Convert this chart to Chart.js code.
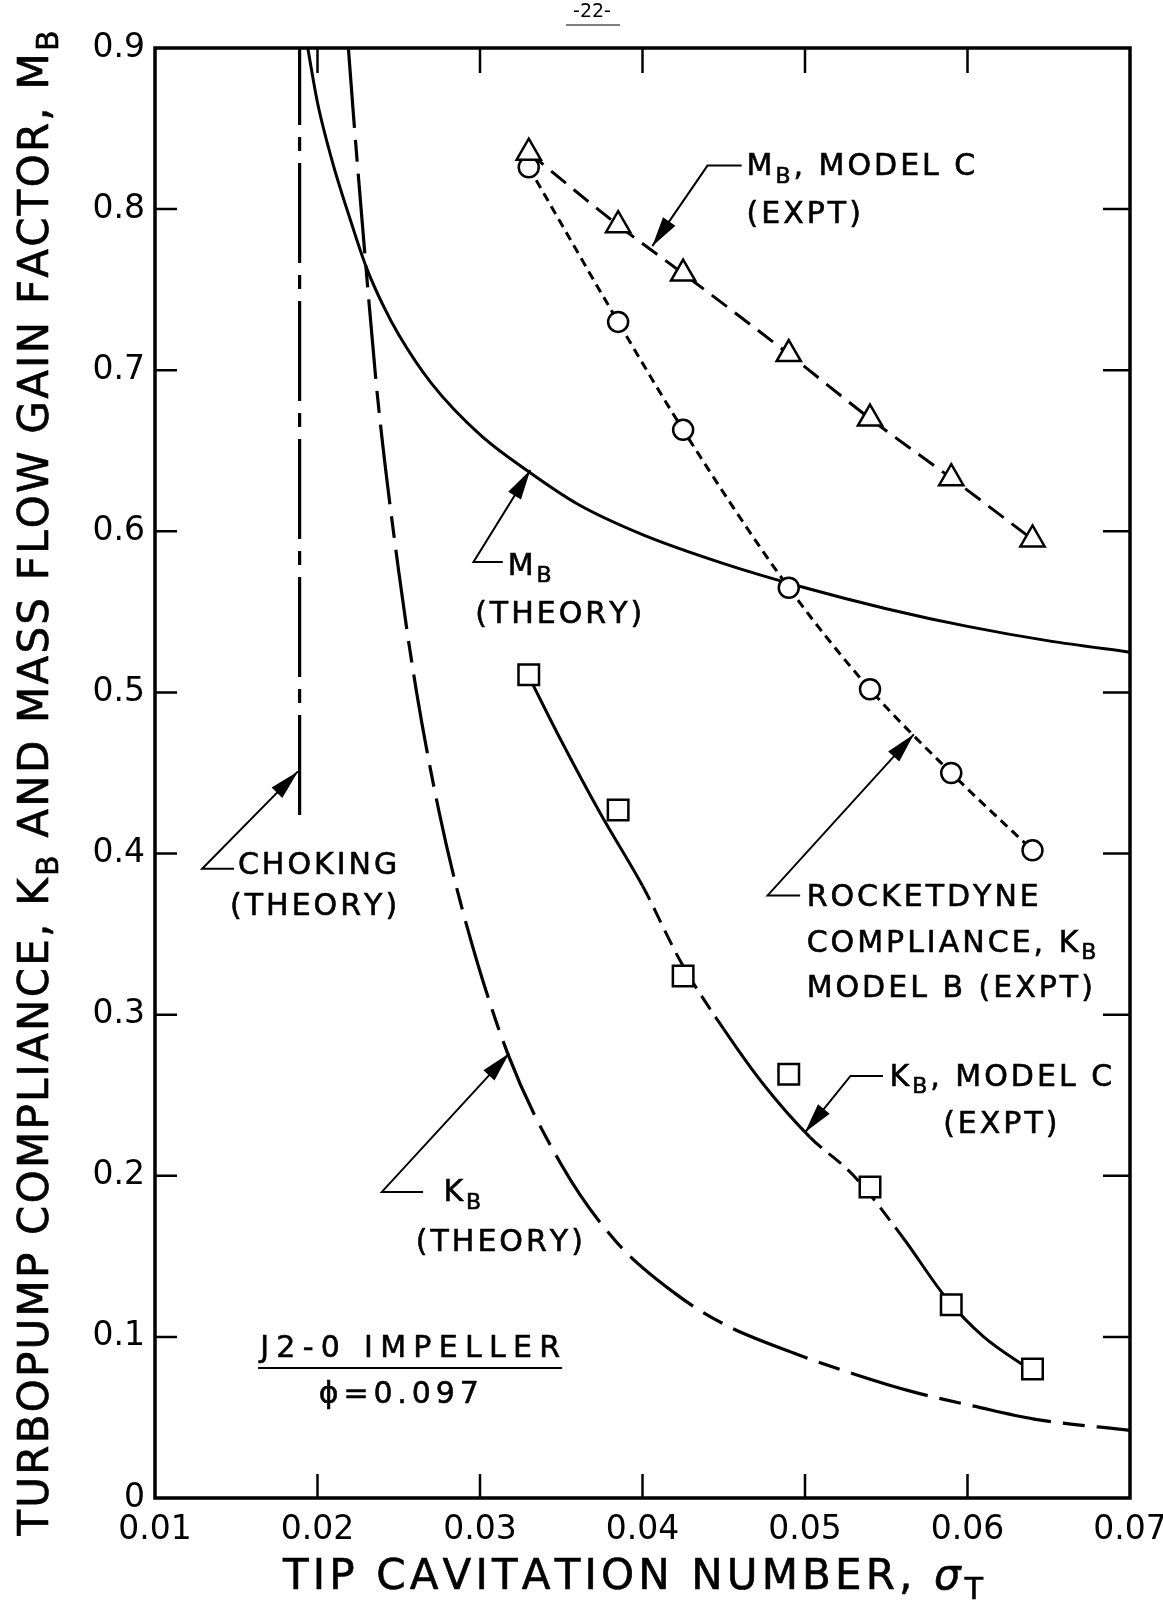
<!DOCTYPE html>
<html>
<head>
<meta charset="utf-8">
<script src="https://cdn.jsdelivr.net/npm/chart.js@4.4.1/dist/chart.umd.min.js"></script>
<style>
  html, body { margin: 0; padding: 0; background: #fff; }
  canvas { display: block; }
</style>
</head>
<body>
<canvas id="compliance" width="1163" height="1606"></canvas>
<script>
// experimental points, tip cavitation number vs value
var sigmaExpt = [0.033, 0.0385, 0.0425, 0.049, 0.054, 0.059, 0.064];
var mbModelC = [0.835, 0.79, 0.76, 0.71, 0.67, 0.633, 0.595];
var kbModelB = [0.826, 0.73, 0.663, 0.565, 0.502, 0.45, 0.402];
var kbModelC = [0.511, 0.427, 0.324, 0.263, 0.193, 0.12, 0.08];

// faired curves
var mbTheorySigma = [0.0194, 0.0200, 0.0209, 0.0220, 0.0230, 0.0240, 0.0250, 0.0270, 0.0300, 0.0330, 0.0360, 0.0400, 0.0450, 0.0500, 0.0550, 0.0600, 0.0650, 0.0700];
var mbTheory = [0.900, 0.866, 0.830, 0.794, 0.764, 0.741, 0.722, 0.692, 0.660, 0.637, 0.617, 0.598, 0.580, 0.565, 0.552, 0.541, 0.532, 0.525];

var kbTheorySigma = [0.0219, 0.0222, 0.0230, 0.0237, 0.0250, 0.0261, 0.0275, 0.0290, 0.0317, 0.0350, 0.0383, 0.0420, 0.0450, 0.0493, 0.0530, 0.0566, 0.0604, 0.0641, 0.0700];
var kbTheory = [0.900, 0.860, 0.762, 0.683, 0.575, 0.500, 0.425, 0.362, 0.276, 0.207, 0.160, 0.127, 0.108, 0.090, 0.077, 0.066, 0.057, 0.049, 0.042];

var kbFitSigma = [0.0330, 0.0350, 0.0374, 0.0400, 0.0424, 0.0450, 0.0475, 0.0503, 0.0530, 0.0560, 0.0587, 0.0610, 0.0638];
var kbFit = [0.510, 0.470, 0.425, 0.380, 0.332, 0.291, 0.256, 0.224, 0.200, 0.162, 0.124, 0.100, 0.080];

var chokingSigma = [0.0189, 0.0189];
var chokingLevel = [0.424, 0.9];

var xTicks = [0.01, 0.02, 0.03, 0.04, 0.05, 0.06, 0.07];
var yTicks = [0, 0.1, 0.2, 0.3, 0.4, 0.5, 0.6, 0.7, 0.8, 0.9];

var FONT = "'DejaVu Sans'";

function pts(xs, ys) {
  return xs.map(function (x, i) { return { x: x, y: ys[i] }; });
}

// labels and leader arrows, placed in axis units
var notes = [
  { x: 0.0464, y: 0.826, parts: ["M", "_B", ", MODEL C"] },
  { x: 0.0464, y: 0.796, parts: ["(EXPT)"] },
  { x: 0.0317, y: 0.578, parts: ["M", "_B"] },
  { x: 0.0297, y: 0.548, parts: ["(THEORY)"] },
  { x: 0.0151, y: 0.392, parts: ["CHOKING"] },
  { x: 0.01462, y: 0.367, parts: ["(THEORY)"] },
  { x: 0.0501, y: 0.372, parts: ["ROCKETDYNE"] },
  { x: 0.0501, y: 0.344, parts: ["COMPLIANCE, K", "_B"] },
  { x: 0.0501, y: 0.3155, parts: ["MODEL B (EXPT)"] },
  { x: 0.0552, y: 0.2608, parts: ["K", "_B", ", MODEL C"] },
  { x: 0.0585, y: 0.2316, parts: ["(EXPT)"] },
  { x: 0.02775, y: 0.189, parts: ["K", "_B"] },
  { x: 0.02605, y: 0.1584, parts: ["(THEORY)"] },
  { x: 0.0257, y: 0.0925, parts: ["J2-0 IMPELLER"], center: true, width: 300, underline: true },
  { x: 0.0250, y: 0.064, parts: ["\u03d5", "=", "0.097"], center: true, width: 160 }
];

var leaders = [
  { vx: 0.0440, vy: 0.827, hx: 0.0461, tx: 0.0406, ty: 0.777 },
  { vx: 0.0296, vy: 0.581, hx: 0.0314, tx: 0.0331, ty: 0.638 },
  { vx: 0.0129, vy: 0.3906, hx: 0.01486, tx: 0.0188, ty: 0.451 },
  { vx: 0.0477, vy: 0.374, hx: 0.0497, tx: 0.0567, ty: 0.474 },
  { vx: 0.0528, vy: 0.262, hx: 0.0548, tx: 0.0500, ty: 0.227 },
  { vx: 0.02396, vy: 0.190, hx: 0.0265, tx: 0.0318, ty: 0.276 }
];

function layoutRun(ctx, parts, size) {
  var w = 0, pieces = [];
  parts.forEach(function (p) {
    var kind = p.charAt(0), t = p, f = size + "px " + FONT, dy = 0;
    if (kind === "_") { t = p.slice(1); f = Math.round(size * 0.72) + "px " + FONT; dy = size * 0.32; }
    else if (kind === "*") { t = p.slice(1); f = "italic " + size + "px " + FONT; }
    ctx.font = f;
    for (var i = 0; i < t.length; i++) {
      var cw = ctx.measureText(t[i]).width;
      pieces.push({ c: t[i], f: f, dy: dy, x: w, w: cw });
      w += cw;
    }
  });
  return { pieces: pieces, width: w };
}

function drawRun(ctx, parts, x, y, size, sp, align, target) {
  var run = layoutRun(ctx, parts, size);
  var n = run.pieces.length;
  if (target) sp = (target - run.width) / (n - 1);
  var total = run.width + sp * (n - 1);
  var x0 = align === "center" ? x - total / 2 : x;
  ctx.textAlign = "left";
  ctx.textBaseline = "middle";
  ctx.lineWidth = 0.6;
  run.pieces.forEach(function (pc, i) {
    ctx.font = pc.f;
    ctx.fillText(pc.c, x0 + pc.x + sp * i, y + pc.dy);
    ctx.strokeText(pc.c, x0 + pc.x + sp * i, y + pc.dy);
  });
  return { left: x0, width: total };
}

var overlay = {
  id: "overlay",
  afterDraw: function (chart) {
    var ctx = chart.ctx, a = chart.chartArea;
    var xs = chart.scales.x, ys = chart.scales.y;
    ctx.save();
    ctx.strokeStyle = "#000";
    ctx.fillStyle = "#000";

    // frame
    ctx.lineWidth = 3.5;
    ctx.strokeRect(a.left, a.top, a.right - a.left, a.bottom - a.top);

    // inward ticks
    ctx.lineWidth = 2.5;
    ctx.beginPath();
    xTicks.slice(1, -1).forEach(function (v) {
      var px = xs.getPixelForValue(v);
      ctx.moveTo(px, a.bottom); ctx.lineTo(px, a.bottom - 24);
      ctx.moveTo(px, a.top); ctx.lineTo(px, a.top + 25);
    });
    yTicks.slice(1, -1).forEach(function (v) {
      var py = ys.getPixelForValue(v);
      ctx.moveTo(a.left, py); ctx.lineTo(a.left + 22, py);
      ctx.moveTo(a.right, py); ctx.lineTo(a.right - 27, py);
    });
    ctx.stroke();

    // leaders with arrowheads
    ctx.lineWidth = 2;
    leaders.forEach(function (l) {
      var vx = xs.getPixelForValue(l.vx), vy = ys.getPixelForValue(l.vy);
      var hx = xs.getPixelForValue(l.hx);
      var tx = xs.getPixelForValue(l.tx), ty = ys.getPixelForValue(l.ty);
      ctx.beginPath();
      ctx.moveTo(hx, vy); ctx.lineTo(vx, vy); ctx.lineTo(tx, ty);
      ctx.stroke();
      var ang = Math.atan2(ty - vy, tx - vx);
      var len = 30, half = 7.5;
      var bx = tx - Math.cos(ang) * len, by = ty - Math.sin(ang) * len;
      ctx.beginPath();
      ctx.moveTo(tx, ty);
      ctx.lineTo(bx - Math.sin(ang) * half, by + Math.cos(ang) * half);
      ctx.lineTo(bx + Math.sin(ang) * half, by - Math.cos(ang) * half);
      ctx.closePath();
      ctx.fill();
    });

    // labels
    notes.forEach(function (n) {
      var px = xs.getPixelForValue(n.x), py = ys.getPixelForValue(n.y);
      var r = drawRun(ctx, n.parts, px, py, 30, 3, n.center ? "center" : "left", n.width);
      if (n.underline) {
        ctx.lineWidth = 2;
        ctx.beginPath();
        ctx.moveTo(r.left - 2, py + 19); ctx.lineTo(r.left + r.width + 2, py + 19);
        ctx.stroke();
      }
    });

    // axis titles
    drawRun(ctx, ["TIP CAVITATION NUMBER, ", "*\u03c3", "_T"], 633, 1578, 42, 0, "center", 700);
    ctx.save();
    ctx.translate(37, 783);
    ctx.rotate(-Math.PI / 2);
    drawRun(ctx, ["TURBOPUMP COMPLIANCE, K", "_B", " AND MASS FLOW GAIN FACTOR, M", "_B"], 0, 0, 42, 0, "center", 1505);
    ctx.restore();

    // page number
    ctx.font = "19px " + FONT;
    ctx.textAlign = "center";
    ctx.textBaseline = "middle";
    ctx.fillText("-22-", 592, 12);
    ctx.lineWidth = 1;
    ctx.beginPath();
    ctx.moveTo(566, 25); ctx.lineTo(620, 25);
    ctx.stroke();
    ctx.restore();
  }
};

Chart.defaults.font.family = FONT;
Chart.defaults.color = "#000";

function inFitDash(x) {
  return (x >= 0.0400 && x < 0.0450) || (x >= 0.0503 && x < 0.0560);
}

function noEdgePadding(axis) {
  axis.paddingLeft = 0;
  axis.paddingRight = 0;
  axis.paddingTop = 0;
  axis.paddingBottom = 0;
}

new Chart(document.getElementById("compliance"), {
  type: "line",
  data: {
    datasets: [
      {
        label: "M_B, Model C (expt)",
        data: pts(sigmaExpt, mbModelC),
        borderColor: "#000",
        borderWidth: 3,
        borderDash: [19, 10],
        pointStyle: "triangle",
        pointRadius: 14,
        pointBorderWidth: 2.5,
        pointBackgroundColor: "#fff",
        pointBorderColor: "#000",
        cubicInterpolationMode: "monotone"
      },
      {
        label: "Rocketdyne compliance K_B, Model B (expt)",
        data: pts(sigmaExpt, kbModelB),
        borderColor: "#000",
        borderWidth: 3,
        borderDash: [9, 6],
        pointStyle: "circle",
        pointRadius: 10,
        pointBorderWidth: 2.5,
        pointBackgroundColor: "#fff",
        pointBorderColor: "#000",
        cubicInterpolationMode: "monotone"
      },
      {
        label: "K_B, Model C (expt)",
        data: pts(sigmaExpt, kbModelC),
        showLine: false,
        pointStyle: "rect",
        pointRadius: 14.5,
        pointBorderWidth: 2.5,
        pointBackgroundColor: "#fff",
        pointBorderColor: "#000"
      },
      {
        label: "K_B, Model C curve",
        data: pts(kbFitSigma, kbFit),
        borderColor: "#000",
        borderWidth: 3,
        pointRadius: 0,
        cubicInterpolationMode: "monotone",
        segment: {
          borderDash: function (c) { return inFitDash(c.p0.parsed.x) ? [16, 9] : []; }
        }
      },
      {
        label: "M_B (theory)",
        data: pts(mbTheorySigma, mbTheory),
        borderColor: "#000",
        borderWidth: 3,
        pointRadius: 0,
        cubicInterpolationMode: "monotone"
      },
      {
        label: "K_B (theory)",
        data: pts(kbTheorySigma, kbTheory),
        borderColor: "#000",
        borderWidth: 3.2,
        borderDash: [80, 12, 22, 12],
        pointRadius: 0,
        cubicInterpolationMode: "monotone"
      },
      {
        label: "Choking (theory)",
        data: pts(chokingSigma, chokingLevel),
        borderColor: "#000",
        borderWidth: 3.2,
        borderDash: [100, 12, 14, 12],
        pointRadius: 0,
        tension: 0
      }
    ]
  },
  options: {
    responsive: false,
    animation: false,
    devicePixelRatio: 1,
    layout: { padding: { left: 0, top: 48, right: 33, bottom: 0 } },
    plugins: {
      legend: { display: false },
      tooltip: { enabled: false },
      title: { display: false }
    },
    scales: {
      x: {
        type: "linear",
        min: 0.01,
        max: 0.07,
        grid: { display: false, drawTicks: false },
        border: { display: false },
        afterBuildTicks: function (axis) {
          axis.ticks = xTicks.map(function (v) { return { value: v }; });
        },
        afterFit: function (axis) { axis.height = 108; noEdgePadding(axis); },
        ticks: {
          maxRotation: 0,
          autoSkip: false,
          padding: 13,
          font: { size: 33 },
          callback: function (v) { return v.toFixed(2); }
        }
      },
      y: {
        type: "linear",
        min: 0,
        max: 0.9,
        grid: { display: false, drawTicks: false },
        border: { display: false },
        afterBuildTicks: function (axis) {
          axis.ticks = yTicks.map(function (v) { return { value: v }; });
        },
        afterFit: function (axis) { axis.width = 155; noEdgePadding(axis); },
        ticks: {
          autoSkip: false,
          padding: 10,
          font: { size: 33 },
          callback: function (v) { return v === 0 ? "0" : v.toFixed(1); }
        }
      }
    }
  },
  plugins: [overlay]
});
</script>
</body>
</html>
